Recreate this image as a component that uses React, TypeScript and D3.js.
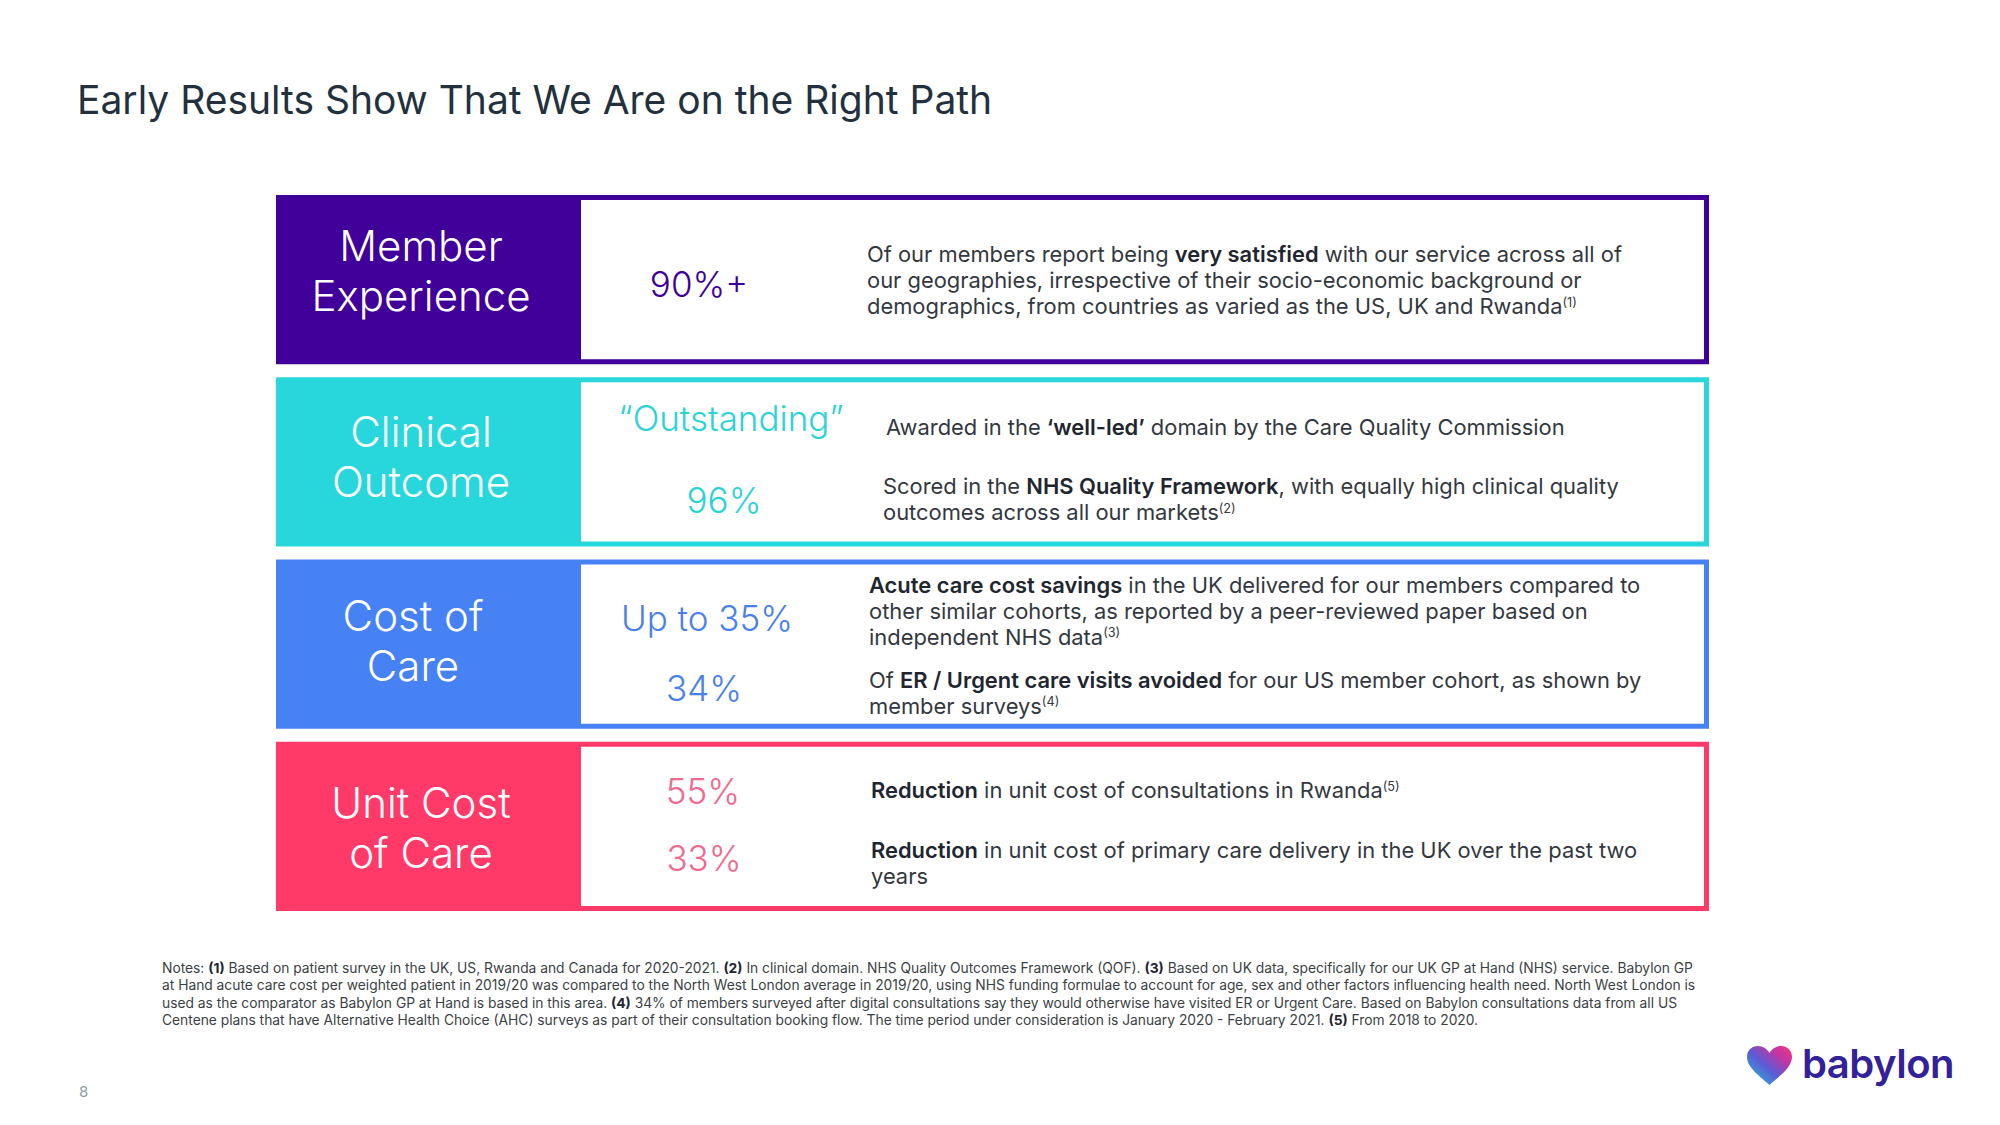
import React from "react";
import * as d3 from "d3";

// ---------- DATA ----------
const title = "Early Results Show That We Are on the Right Path";
const categoryLines = [
  ["Member", "Experience"],
  ["Clinical", "Outcome"],
  ["Cost of", "Care"],
  ["Unit Cost", "of Care"],
];
const metricValues = [
  ["90%+"],
  ["\u201COutstanding\u201D", "96%"],
  ["Up to 35%", "34%"],
  ["55%", "33%"],
];
type Seg = { t: string; b?: boolean; sup?: boolean };
const metricDescriptions: Seg[][][][] = [
  [
    [
      [{ t: "Of our members report being " }, { t: "very satisfied", b: true }, { t: " with our service across all of" }],
      [{ t: "our geographies, irrespective of their socio-economic background or" }],
      [{ t: "demographics, from countries as varied as the US, UK and Rwanda" }, { t: "(1)", sup: true }],
    ],
  ],
  [
    [[{ t: "Awarded in the " }, { t: "\u2018well-led\u2019", b: true }, { t: " domain by the Care Quality Commission" }]],
    [
      [{ t: "Scored in the " }, { t: "NHS Quality Framework", b: true }, { t: ", with equally high clinical quality" }],
      [{ t: "outcomes across all our markets" }, { t: "(2)", sup: true }],
    ],
  ],
  [
    [
      [{ t: "Acute care cost savings", b: true }, { t: " in the UK delivered for our members compared to" }],
      [{ t: "other similar cohorts, as reported by a peer-reviewed paper based on" }],
      [{ t: "independent NHS data" }, { t: "(3)", sup: true }],
    ],
    [
      [{ t: "Of " }, { t: "ER / Urgent care visits avoided", b: true }, { t: " for our US member cohort, as shown by" }],
      [{ t: "member surveys" }, { t: "(4)", sup: true }],
    ],
  ],
  [
    [[{ t: "Reduction", b: true }, { t: " in unit cost of consultations in Rwanda" }, { t: "(5)", sup: true }]],
    [
      [{ t: "Reduction", b: true }, { t: " in unit cost of primary care delivery in the UK over the past two" }],
      [{ t: "years" }],
    ],
  ],
];
const notesLines: Seg[][] = [
  [
    { t: "Notes: " }, { t: "(1)", b: true },
    { t: " Based on patient survey in the UK, US, Rwanda and Canada for 2020-2021. " }, { t: "(2)", b: true },
    { t: " In clinical domain. NHS Quality Outcomes Framework (QOF). " }, { t: "(3)", b: true },
    { t: " Based on UK data, specifically for our UK GP at Hand (NHS) service. Babylon GP" },
  ],
  [{ t: "at Hand acute care cost per weighted patient in 2019/20 was compared to the North West London average in 2019/20, using NHS funding formulae to account for age, sex and other factors influencing health need. North West London is" }],
  [
    { t: "used as the comparator as Babylon GP at Hand is based in this area. " }, { t: "(4)", b: true },
    { t: " 34% of members surveyed after digital consultations say they would otherwise have visited ER or Urgent Care. Based on Babylon consultations data from all US" },
  ],
  [
    { t: "Centene plans that have Alternative Health Choice (AHC) surveys as part of their consultation booking flow. The time period under consideration is January 2020 - February 2021. " },
    { t: "(5)", b: true }, { t: " From 2018 to 2020." },
  ],
];
const pageNumber = "8";
const brandName = "babylon";

// ---------- STYLE / LAYOUT ----------
const rowColors = ["#400099", "#27D7DC", "#4782F4", "#FF3A69"];
const valueColors = ["#400099", "#2BD2D6", "#4A80EA", "#EE6A8E"];
const W = 2000, H = 1125;
const FONT = "Inter, 'Noto Sans', sans-serif";
const labelLayout = [
  { x: 421, dy: [66, 116] },
  { x: 421, dy: [70, 120] },
  { x: 413, dy: [71, 121] },
  { x: 421, dy: [76, 126] },
];
const itemLayout = [
  [{ vx: 699, vdy: 102, dx: 867, ddy: 67 }],
  [{ vx: 731, vdy: 54, dx: 886, ddy: 58 }, { vx: 724, vdy: 136, dx: 883, ddy: 117 }],
  [{ vx: 707, vdy: 71, dx: 869, ddy: 33 }, { vx: 704, vdy: 141, dx: 869, ddy: 128 }],
  [{ vx: 703, vdy: 62, dx: 871, ddy: 56 }, { vx: 704, vdy: 129, dx: 871, ddy: 116 }],
];

function SegText({ segs, x, y, size, color, boldColor, boldWeight }: any) {
  const out: any[] = [];
  segs.forEach((s: Seg, i: number) => {
    if (s.sup) {
      out.push(
        <tspan key={i} fontSize={size * 0.58} dy={-size * 0.33}>{s.t}</tspan>
      );
    } else {
      out.push(
        <tspan key={i} fontWeight={s.b ? boldWeight : 400} fill={s.b ? boldColor : color}>{s.t}</tspan>
      );
    }
  });
  return (
    <text x={x} y={y} fontSize={size} fill={color} fontFamily={FONT} style={{ whiteSpace: "pre" }}>
      {out}
    </text>
  );
}

export default function App() {
  const x0 = 276, x1 = 1709, labelRight = 581, border = 5;
  const y = d3.scaleBand<number>().domain(d3.range(categoryLines.length)).range([195, 911]).paddingInner(0.0714).paddingOuter(0);
  const bw = y.bandwidth();
  const lineGap = 26;

  return (
    <svg width={W} height={H} viewBox={`0 0 ${W} ${H}`} style={{ position: "absolute", left: 0, top: 0, background: "#fff" }}>
      <defs>
        <linearGradient id="heartGrad" x1="0" y1="1" x2="1" y2="0">
          <stop offset="0%" stopColor="#1FC9D8" />
          <stop offset="45%" stopColor="#5B5BD6" />
          <stop offset="75%" stopColor="#C535A0" />
          <stop offset="100%" stopColor="#F03C84" />
        </linearGradient>
      </defs>
      <rect x={0} y={0} width={W} height={H} fill="#fff" />
      <text x={77} y={114} fontSize={39} fill="#23303D" fontFamily={FONT}>{title}</text>

      {categoryLines.map((lines, r) => {
        const top = y(r)!;
        return (
          <g key={r}>
            <rect x={x0} y={top} width={x1 - x0} height={bw} fill={rowColors[r]} />
            <rect x={labelRight} y={top + border} width={x1 - border - labelRight} height={bw - 2 * border} fill="#fff" />
            {lines.map((ln, i) => (
              <text key={i} x={labelLayout[r].x} y={top + labelLayout[r].dy[i]} textAnchor="middle" fontSize={42} fontWeight={300} fill="#fff" fontFamily={FONT}>{ln}</text>
            ))}
            {metricValues[r].map((v, k) => {
              const L = itemLayout[r][k];
              return (
                <g key={k}>
                  <text x={L.vx} y={top + L.vdy} textAnchor="middle" fontSize={35} fontWeight={300} fill={valueColors[r]} fontFamily={FONT}>{v}</text>
                  {metricDescriptions[r][k].map((segs, li) => (
                    <SegText key={li} segs={segs} x={L.dx} y={top + L.ddy + li * lineGap} size={21.9} color="#333840" boldColor="#1F2630" boldWeight={600} />
                  ))}
                </g>
              );
            })}
          </g>
        );
      })}

      {notesLines.map((segs, i) => (
        <SegText key={i} segs={segs} x={162} y={973 + i * 17.3} size={13.8} color="#3A3F45" boldColor="#1F2630" boldWeight={700} />
      ))}

      <text x={79} y={1097} fontSize={15} fill="#8C9AA6" fontFamily={FONT}>{pageNumber}</text>

      <g transform="translate(1747,1046)">
        <path d="M22.5,39 C14,31 0,22 0,11 C0,4 5,0 11,0 C16,0 20,3 22.5,7 C25,3 29,0 34,0 C40,0 45,4 45,11 C45,22 31,31 22.5,39 Z" fill="url(#heartGrad)" />
      </g>
      <text x={1802} y={1078} fontSize={40} fontWeight={600} fill="#33219A" fontFamily={FONT} letterSpacing={-0.5}>{brandName}</text>
    </svg>
  );
}
